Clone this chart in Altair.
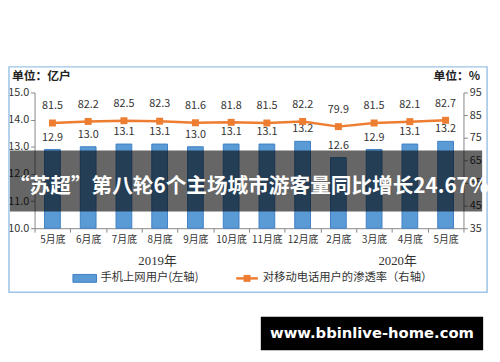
import altair as alt
import pandas as pd

# ---- data ----
categories = ['5月底', '6月底', '7月底', '8月底', '9月底', '10月底', '11月底', '12月底',
              '2月底', '3月底', '4月底', '5月底']
users = [12.9, 13.0, 13.1, 13.1, 13.0, 13.1, 13.1, 13.2, 12.6, 12.9, 13.1, 13.2]
rate = [81.5, 82.2, 82.5, 82.3, 81.6, 81.8, 81.5, 82.2, 79.9, 81.5, 82.1, 82.7]
years = ['2019年', '2020年']
series_names = ['手机上网用户(左轴)', '对移动电话用户的渗透率（右轴）']
left_ticks = [10, 11, 12, 13, 14, 15]
right_ticks = [35, 45, 55, 65, 75, 85, 95]
units = ['单位：亿户', '单位：%']
title_text = '“苏超”第八轮6个主场城市游客量同比增长24.67%'
watermark = 'www.bbinlive-home.com'

FONT = 'Noto Sans CJK SC'
BLUE = '#5B9BD5'
ORANGE = '#ED7D31'
AXIS = '#868686'
TXT = '#333333'

df = pd.DataFrame({'idx': list(range(len(categories))), 'cat': categories,
                   'users': users, 'rate': rate})
one = pd.DataFrame({'a': [0]})

W, H = 436, 138
label_expr = "[" + ",".join("'%s'" % c for c in categories) + "][datum.value]"

x_enc = alt.X('idx:O', scale=alt.Scale(paddingInner=0, paddingOuter=0),
              axis=alt.Axis(title=None, labelExpr=label_expr, labelAngle=0,
                            tickBand='extent', tickSize=4, labelPadding=3,
                            domainColor=AXIS, tickColor=AXIS, labelFont=FONT,
                            labelFontSize=10, labelColor=TXT))

y_left = alt.Y('users:Q', scale=alt.Scale(domain=[10, 15], zero=False, nice=False),
               axis=alt.Axis(title=None, values=left_ticks, format='.1f', grid=False,
                             tickSize=4, labelPadding=2, domainColor=AXIS, tickColor=AXIS,
                             labelFont=FONT, labelFontSize=11, labelColor=TXT))
y_right = alt.Y('rate:Q', scale=alt.Scale(domain=[35, 95], zero=False, nice=False),
                axis=alt.Axis(title=None, values=right_ticks, grid=False, orient='right',
                              tickSize=4, labelPadding=2, domainColor=AXIS, tickColor=AXIS,
                              labelFont=FONT, labelFontSize=11, labelColor=TXT))

base = alt.Chart(df)
bars = base.mark_bar(width=16, color=BLUE, stroke='#3F7FC4', strokeWidth=1).encode(
    x=x_enc, y=y_left, y2=alt.datum(10))
bar_labels = base.mark_text(dy=-12, font=FONT, fontSize=11, color=TXT).encode(
    x=x_enc, y=y_left, text=alt.Text('users:Q', format='.1f'))
left = alt.layer(bars, bar_labels)

line = base.mark_line(color=ORANGE, strokeWidth=2.5).encode(x=x_enc, y=y_right)
pts = base.mark_point(shape='square', filled=True, size=50, color=ORANGE, opacity=1).encode(
    x=x_enc, y=y_right)
line_labels = base.mark_text(dy=-17, font=FONT, fontSize=11, color=TXT).encode(
    x=x_enc, y=y_right, text=alt.Text('rate:Q', format='.1f'))

# ---- decorations (view coordinates: origin at plot top-left) ----
oc = alt.Chart(one)
frame = oc.mark_rect(fill='transparent', stroke='#9DC3E6', strokeWidth=1.5).encode(
    x=alt.value(-26), x2=alt.value(460), y=alt.value(-26), y2=alt.value(203))
unit_l = oc.mark_text(align='left', font=FONT, fontSize=12, fontWeight='bold', color='#222').encode(
    x=alt.value(-23), y=alt.value(-17), text=alt.value(units[0]))
unit_r = oc.mark_text(align='right', font=FONT, fontSize=12, fontWeight='bold', color='#222').encode(
    x=alt.value(453), y=alt.value(-17), text=alt.value(units[1]))
yr1 = oc.mark_text(font='Liberation Serif, Noto Sans CJK SC', fontSize=13, color=TXT).encode(
    x=alt.value(125), y=alt.value(171.5), text=alt.value(years[0]))
yr2 = oc.mark_text(font='Liberation Serif, Noto Sans CJK SC', fontSize=13, color=TXT).encode(
    x=alt.value(369), y=alt.value(171.5), text=alt.value(years[1]))
leg_box = oc.mark_rect(color=BLUE, stroke='#3F7FC4', strokeWidth=1).encode(
    x=alt.value(39), x2=alt.value(63), y=alt.value(185), y2=alt.value(193))
leg_t1 = oc.mark_text(align='left', font=FONT, fontSize=11.5, color=TXT).encode(
    x=alt.value(67), y=alt.value(189), text=alt.value(series_names[0]))
leg_line = oc.mark_rule(color=ORANGE, strokeWidth=2.5).encode(
    x=alt.value(205), x2=alt.value(227), y=alt.value(189))
leg_pt = oc.mark_point(shape='square', filled=True, size=50, color=ORANGE, opacity=1).encode(
    x=alt.value(216), y=alt.value(189))
leg_t2 = oc.mark_text(align='left', font=FONT, fontSize=11.5, color=TXT).encode(
    x=alt.value(232), y=alt.value(189), text=alt.value(series_names[1]))

band = oc.mark_rect(color='black', opacity=0.6).encode(
    x=alt.value(-25), x2=alt.value(455), y=alt.value(59), y2=alt.value(121))
title = oc.mark_text(align='left', baseline='alphabetic', font=FONT, fontSize=21,
                     fontWeight='bold', color='white').encode(
    x=alt.value(-26), y=alt.value(102), text=alt.value(title_text))
wm_box = oc.mark_rect(color='black').encode(
    x=alt.value(230), x2=alt.value(456), y=alt.value(228), y2=alt.value(262))
wm_text = oc.mark_text(font='DejaVu Sans', fontSize=15, fontWeight='bold', color='white').encode(
    x=alt.value(343), y=alt.value(245), text=alt.value(watermark))

right = alt.layer(line, pts, line_labels, frame, unit_l, unit_r, yr1, yr2,
                  leg_box, leg_t1, leg_line, leg_pt, leg_t2, band, title, wm_box, wm_text)

chart = alt.layer(left, right).resolve_scale(y='independent').properties(
    width=W, height=H,
    padding={'left': 27, 'top': 83, 'right': 29, 'bottom': 125},
    autosize=alt.AutoSizeParams(type='none'),
    background='white'
).configure_view(stroke=None)

chart.save("out.html", embed_options={"renderer": "svg", "actions": False})
